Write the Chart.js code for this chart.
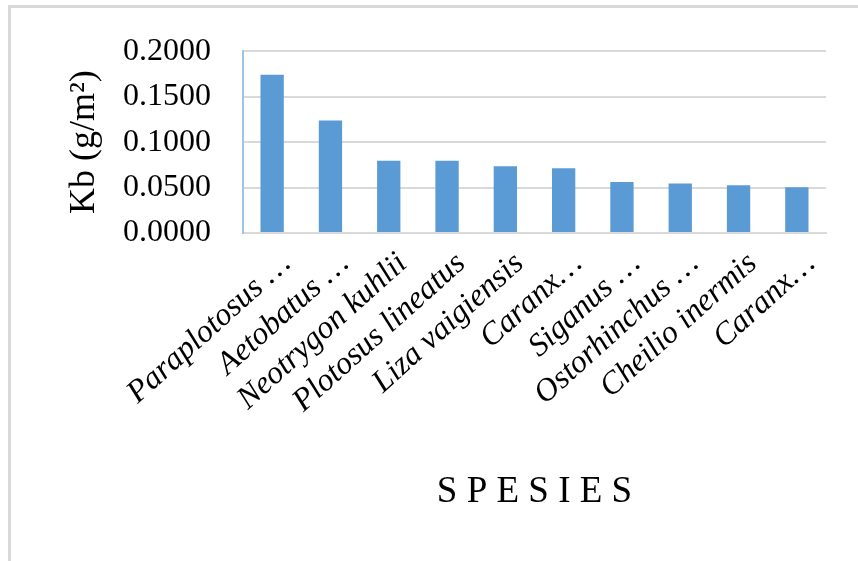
<!DOCTYPE html>
<html>
<head>
<meta charset="utf-8">
<script src="https://cdn.jsdelivr.net/npm/chart.js@4"></script>
<style>
  html, body { margin: 0; padding: 0; background: #fff; }
  #wrap { position: relative; width: 858px; height: 561px; overflow: hidden; }
  #frame { position: absolute; left: 8px; top: 5px; width: 900px; height: 700px;
           border-left: 3px solid #d9d9d9; border-top: 3px solid #d9d9d9; }
  canvas { position: absolute; left: 0; top: 0; }
</style>
</head>
<body>
<div id="wrap">
  <div id="frame"></div>
  <canvas id="c" width="858" height="561"></canvas>
</div>
<script>
const categories = ["Paraplotosus …", "Aetobatus …", "Neotrygon kuhlii", "Plotosus lineatus",
  "Liza vaigiensis", "Caranx…", "Siganus …", "Ostorhinchus …", "Cheilio inermis", "Caranx…"];
const kbValues = [0.1741, 0.1237, 0.0796, 0.0796, 0.0734, 0.0712, 0.0562, 0.0544, 0.0526, 0.0504];
const yTicks = [0, 0.05, 0.10, 0.15, 0.20];
const yTitle = "Kb (g/m²)";
const xTitle = "S P E S I E S";

const serif = "'Liberation Serif', 'Times New Roman', serif";

new Chart(document.getElementById('c'), {
  type: 'bar',
  data: {
    labels: categories,
    datasets: [{
      data: kbValues,
      backgroundColor: '#5b9bd5',
      borderWidth: 0,
      barPercentage: 0.4,
      categoryPercentage: 1.0
    }]
  },
  options: {
    responsive: false,
    animation: false,
    plugins: { legend: { display: false }, tooltip: { enabled: false } },
    layout: { padding: { left: 0, right: 32, top: 30, bottom: 0 } },
    scales: {
      x: {
        grid: { display: false, drawTicks: false },
        border: { display: true, color: '#d9d9d9', width: 2 },
        ticks: {
          color: '#000',
          font: { family: serif, size: 32, style: 'italic' },
          minRotation: 42, maxRotation: 42,
          autoSkip: false,
          padding: 12,
          labelOffset: 14
        },
        title: {
          display: true, text: xTitle, color: '#000',
          font: { family: serif, size: 37 },
          padding: { top: 0, bottom: 47 }
        },
        afterFit: (s) => { s.height = 328; }
      },
      y: {
        min: 0, max: 0.2,
        afterBuildTicks: (s) => { s.ticks = yTicks.map(v => ({ value: v })); },
        grid: { color: '#d9d9d9', lineWidth: 2, drawTicks: false },
        border: { display: true, color: '#9dc3e6', width: 2 },
        ticks: {
          color: '#000',
          font: { family: serif, size: 32 },
          padding: 32,
          callback: (v) => Number(v).toFixed(4)
        },
        title: {
          display: true, text: yTitle, color: '#000',
          font: { family: serif, size: 36 },
          padding: { top: 63, bottom: 0 }
        },
        afterFit: (s) => { s.width = 243; }
      }
    }
  }
});
</script>
</body>
</html>
